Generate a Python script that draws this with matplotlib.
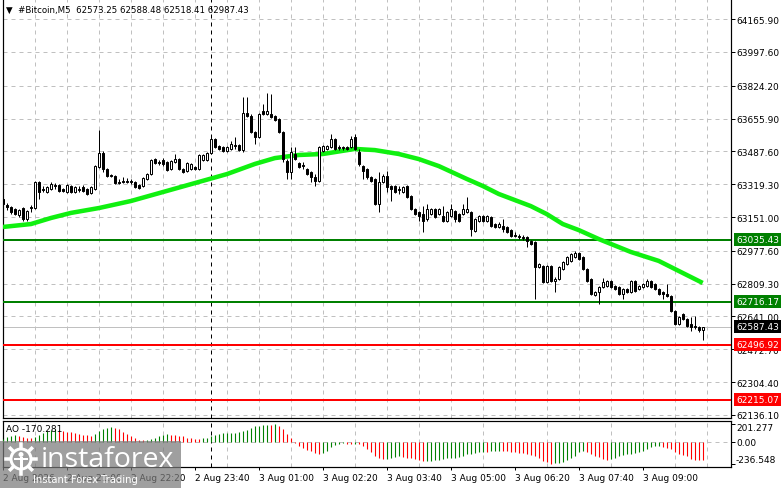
import numpy as np
import matplotlib
matplotlib.use("Agg")
import matplotlib.pyplot as plt
from matplotlib.patches import Rectangle, Circle
from matplotlib.lines import Line2D
from matplotlib.transforms import IdentityTransform

# ---------------- data ----------------
opens = [63243, 63213, 63202, 63192, 63161, 63197, 63141, 63202, 63197, 63330,
         63295, 63279, 63295, 63315, 63315, 63295, 63279, 63310, 63279, 63295,
         63305, 63295, 63274, 63295, 63407, 63479, 63397, 63366, 63361, 63330,
         63336, 63336, 63336, 63330, 63315, 63310, 63346, 63371, 63448, 63433,
         63443, 63433, 63397, 63433, 63448, 63397, 63387, 63397, 63407, 63397,
         63443, 63443, 63479, 63551, 63515, 63510, 63489, 63500, 63520, 63520,
         63494, 63684, 63669, 63587, 63561, 63694, 63679, 63679, 63669, 63653,
         63587, 63438, 63382, 63474, 63428, 63418, 63397, 63382, 63356, 63336,
         63489, 63500, 63510, 63551, 63510, 63510, 63510, 63510, 63561, 63484,
         63412, 63397, 63356, 63346, 63218, 63330, 63361, 63310, 63310, 63295,
         63279, 63310, 63259, 63192, 63177, 63166, 63141, 63166, 63192, 63166,
         63156, 63131, 63156, 63182, 63166, 63166, 63177, 63177, 63079, 63131,
         63156, 63131, 63151, 63115, 63100, 63105, 63100, 63084, 63059, 63054,
         63049, 63049, 63028, 63023, 62895, 62900, 62818, 62900, 62823, 62833,
         62885, 62910, 62926, 62946, 62967, 62946, 62885, 62833, 62751, 62767,
         62792, 62797, 62823, 62797, 62792, 62756, 62782, 62767, 62823, 62782,
         62792, 62797, 62823, 62808, 62782, 62767, 62756, 62746, 62669, 62603,
         62654, 62628, 62603, 62592, 62587, 62573.25]
closes = [63218, 63202, 63177, 63166, 63187, 63141, 63182, 63197, 63330, 63279,
          63289, 63305, 63320, 63310, 63284, 63284, 63315, 63279, 63305, 63289,
          63284, 63269, 63305, 63412, 63479, 63397, 63361, 63361, 63325, 63325,
          63330, 63330, 63330, 63305, 63300, 63351, 63371, 63443, 63428, 63428,
          63423, 63392, 63438, 63448, 63397, 63382, 63428, 63423, 63397, 63469,
          63469, 63479, 63551, 63510, 63500, 63489, 63510, 63525, 63515, 63494,
          63684, 63669, 63587, 63561, 63679, 63679, 63694, 63664, 63648, 63587,
          63448, 63382, 63484, 63448, 63407, 63412, 63371, 63356, 63336, 63510,
          63515, 63515, 63551, 63500, 63505, 63505, 63500, 63551, 63500, 63423,
          63387, 63356, 63336, 63218, 63330, 63361, 63305, 63295, 63279, 63289,
          63305, 63254, 63192, 63166, 63156, 63131, 63192, 63192, 63151, 63192,
          63131, 63177, 63192, 63141, 63131, 63192, 63192, 63090, 63141, 63156,
          63131, 63156, 63105, 63100, 63115, 63090, 63074, 63054, 63054, 63049,
          63043, 63028, 63013, 62895, 62910, 62818, 62900, 62823, 62833, 62895,
          62920, 62946, 62961, 62967, 62936, 62885, 62823, 62756, 62767, 62792,
          62818, 62823, 62792, 62782, 62756, 62782, 62767, 62823, 62772, 62797,
          62808, 62823, 62792, 62782, 62756, 62756, 62746, 62669, 62603, 62638,
          62628, 62592, 62587, 62587, 62572, 62587.43]
highs = [63264, 63223, 63207, 63197, 63192, 63202, 63187, 63213, 63336, 63336,
         63310, 63310, 63330, 63325, 63320, 63300, 63320, 63315, 63310, 63310,
         63315, 63300, 63310, 63418, 63597, 63489, 63402, 63371, 63366, 63346,
         63356, 63351, 63346, 63336, 63320, 63356, 63376, 63448, 63453, 63443,
         63453, 63438, 63443, 63474, 63453, 63402, 63433, 63428, 63412, 63474,
         63474, 63484, 63561, 63556, 63520, 63515, 63515, 63541, 63561, 63525,
         63766, 63766, 63679, 63592, 63684, 63730, 63787, 63782, 63674, 63659,
         63592, 63448, 63510, 63510, 63433, 63433, 63402, 63387, 63371, 63515,
         63520, 63520, 63576, 63556, 63520, 63515, 63515, 63566, 63576, 63500,
         63418, 63402, 63361, 63351, 63382, 63371, 63387, 63315, 63315, 63310,
         63310, 63315, 63264, 63197, 63182, 63207, 63218, 63197, 63197, 63197,
         63207, 63182, 63218, 63187, 63172, 63218, 63254, 63182, 63146, 63161,
         63161, 63161, 63156, 63120, 63125, 63141, 63105, 63090, 63074, 63064,
         63059, 63054, 63033, 63028, 62915, 62905, 62905, 62905, 62843, 62900,
         62926, 62951, 62967, 62977, 62972, 62951, 62890, 62838, 62772, 62797,
         62838, 62828, 62828, 62802, 62797, 62787, 62787, 62828, 62828, 62802,
         62813, 62833, 62828, 62813, 62787, 62772, 62808, 62751, 62674, 62644,
         62659, 62633, 62638, 62644, 62592, 62588.48]
lows = [63187, 63187, 63166, 63161, 63151, 63131, 63131, 63177, 63192, 63243,
        63279, 63274, 63289, 63295, 63279, 63279, 63274, 63274, 63274, 63279,
        63279, 63264, 63269, 63289, 63402, 63382, 63356, 63356, 63320, 63320,
        63325, 63325, 63320, 63300, 63295, 63305, 63341, 63366, 63423, 63418,
        63412, 63387, 63392, 63428, 63392, 63376, 63382, 63392, 63392, 63392,
        63438, 63438, 63474, 63505, 63494, 63484, 63484, 63494, 63500, 63489,
        63484, 63664, 63582, 63525, 63556, 63674, 63674, 63659, 63643, 63582,
        63433, 63346, 63346, 63443, 63402, 63397, 63366, 63330, 63310, 63330,
        63484, 63494, 63505, 63494, 63494, 63494, 63494, 63505, 63494, 63412,
        63346, 63346, 63330, 63213, 63177, 63325, 63279, 63233, 63274, 63269,
        63274, 63248, 63187, 63161, 63131, 63074, 63131, 63161, 63146, 63161,
        63125, 63125, 63151, 63125, 63125, 63161, 63172, 63054, 63074, 63125,
        63125, 63125, 63100, 63095, 63095, 63074, 63069, 63049, 63049, 63038,
        63033, 62997, 63008, 62731, 62890, 62813, 62813, 62818, 62767, 62828,
        62879, 62905, 62920, 62941, 62931, 62879, 62818, 62751, 62746, 62705,
        62787, 62792, 62787, 62777, 62751, 62731, 62761, 62761, 62767, 62777,
        62787, 62792, 62787, 62777, 62751, 62731, 62741, 62664, 62597, 62597,
        62623, 62587, 62567, 62577, 62562, 62518.41]

# moving average (read at selected bars)
ma_bars = [0, 7, 12, 17, 24, 32, 40, 48, 56, 63, 68, 74, 80, 88, 93, 99, 104,
           109, 116, 120, 124, 132, 136, 140, 144, 149, 157, 164, 171, 175]
ma_vals = [63100, 63115, 63146, 63172, 63197, 63233, 63279, 63325, 63371, 63423,
           63453, 63469, 63474, 63500, 63494, 63474, 63448, 63412, 63346, 63310,
           63269, 63207, 63166, 63115, 63084, 63038, 62972, 62926, 62854, 62813]

# Awesome Oscillator
ao = [37, 56, 74, 82, 67, 56, 48, 45, 56, 82, 104, 123, 141, 149,
      141, 130, 119, 112, 104, 93, 86, 78, 74,
      93, 130, 149, 160, 167,
      164, 149, 119, 93, 67, 45, 30, 22,
      26, 37, 48, 67, 82, 89,
      86, 82, 74, 67, 52, 45, 41, 37,
      45, 52, 67, 82, 93, 104, 105, 108, 109, 112, 123, 141, 164, 179, 186, 190, 194,
      192, 201.277, 186,
      149, 93, 45, -7, -37, -67, -82, -97, -119, -134,
      -119, -93, -56, -30, -19, -11,
      -15, -22,
      -15,
      -22, -37, -74, -112, -149, -179, -186,
      -182, -175, -164, -156,
      -164, -171, -179, -190, -201,
      -214,
      -210, -205, -197, -193, -186, -179, -175, -171, -167, -149, -130, -126, -123, -112, -104,
      -112,
      -97, -93, -92,
      -97, -100, -104, -112, -119, -123, -130, -141, -156, -179, -205, -223, -236.548,
      -234, -231, -216, -193, -179, -156, -112, -93,
      -104, -130, -149, -167, -186, -193,
      -186, -179, -156, -141, -130, -126, -119, -112, -93, -74, -56, -45, -37,
      -48, -60, -74, -112, -130, -141, -156, -186, -193, -194, -195]

price_ticks = [64165.90, 63997.60, 63824.20, 63655.90, 63487.60, 63319.30, 63151.00,
               62977.60, 62809.30, 62641.00, 62472.70, 62304.40, 62136.10]
green_levels = [63035.43, 62716.17]
red_levels = [62496.92, 62215.07]
current_price = 62587.43
ao_ticks = [201.277, 0.0, -236.548]
ao_tick_labels = ["201.277", "0.00", "-236.548"]
time_pos = [0, 16, 32, 48, 64, 80, 96, 112, 128, 144, 160]
time_labels = ["2 Aug 2026", "2 Aug 21:00", "2 Aug 22:20", "2 Aug 23:40", "3 Aug 01:00",
               "3 Aug 02:20", "3 Aug 03:40", "3 Aug 05:00", "3 Aug 06:20", "3 Aug 07:40",
               "3 Aug 09:00"]
day_sep_bar = 52
header = "#Bitcoin,M5  62573.25 62588.48 62518.41 62987.43"
ao_title = "AO -170.281"

# ---------------- figure ----------------
W, H = 781, 489
fig = plt.figure(figsize=(W / 100, H / 100), dpi=100)
FS = 6.45
PX = 0.72  # points per pixel
GRID = "#C0C0C0"

def fr(x0, y0, x1, y1):
    return [x0 / W, 1 - y1 / H, (x1 - x0) / W, (y1 - y0) / H]

ax = fig.add_axes(fr(3, 0, 731, 419))
ax2 = fig.add_axes(fr(3, 422, 731, 468))

xlim = (0.075, 182.08)
n = len(opens)
idx = np.arange(n)

# main axes
ax.set_xlim(*xlim)
ax.set_ylim(62120.7, 64268.5)
grid_x = np.arange(0, 177, 8)
ax.set_xticks(grid_x)
ax.tick_params(axis="x", length=0, labelbottom=False)
ax.yaxis.tick_right()
ax.set_yticks(price_ticks)
ax.set_yticklabels([f"{p:.2f}" for p in price_ticks])
ax.tick_params(axis="y", length=3, width=PX, pad=1, labelsize=FS, direction="out")
ax.grid(True, color=GRID, lw=PX, ls=(0, (4, 4)))
ax.set_axisbelow(True)
for s in ["left", "right", "bottom"]:
    ax.spines[s].set_linewidth(PX * 1.2)
ax.spines["top"].set_visible(False)

# levels
for lv in green_levels:
    ax.axhline(lv, color="#008000", lw=2 * PX, zorder=3)
for lv in red_levels:
    ax.axhline(lv, color="#FF0000", lw=2 * PX, zorder=3)
ax.axhline(current_price, color="#C0C0C0", lw=PX, zorder=2)

# day separator
ax.axvline(day_sep_bar, color="black", lw=PX, ls=(0, (4, 4)), zorder=2)

# MA line
ax.plot(ma_bars, ma_vals, color="#10F010", lw=4.5 * PX, solid_capstyle="butt", zorder=4)

# candles
ax.vlines(idx, lows, highs, color="black", lw=PX, zorder=5)
bw = 0.5
for i in range(n):
    o, c = opens[i], closes[i]
    lo, hi = min(o, c), max(o, c)
    bull = c >= o
    if hi - lo < 3:
        ax.hlines((o + c) / 2, i - bw / 2 - 0.12, i + bw / 2 + 0.12, color="black", lw=PX, zorder=6)
    else:
        ax.add_patch(Rectangle((i - bw / 2, lo), bw, hi - lo,
                               facecolor="white" if bull else "black",
                               edgecolor="black", lw=PX, zorder=6))

# right-side price boxes
def price_box(a, val, fc):
    a.annotate(f"{val:.2f}", xy=(1, val), xycoords=("axes fraction", "data"),
               xytext=(5, 0), textcoords="offset pixels", ha="left", va="center",
               fontsize=FS, color="white", annotation_clip=False, zorder=10,
               bbox=dict(boxstyle="square,pad=0.22", fc=fc, ec="none"))

for lv in green_levels:
    price_box(ax, lv, "#008000")
price_box(ax, current_price, "black")
for lv in red_levels:
    price_box(ax, lv, "#FF0000")

ax.annotate("\u25BC  " + header, xy=(0, 1), xycoords="axes fraction", xytext=(3, -10),
            textcoords="offset pixels", ha="left", va="center", fontsize=6.2, color="black")

# AO axes
ax2.set_xlim(*xlim)
ax2.set_ylim(-275.4, 237.5)
ao_colors = ["#008000" if (i == 0 or ao[i] > ao[i - 1]) else "#FF0000" for i in range(n)]
ax2.vlines(idx, 0, ao, colors=ao_colors, lw=PX * 1.1, zorder=3)
ax2.axhline(0, color=GRID, lw=PX, ls=(0, (4, 4)), zorder=1)
ax2.set_xticks(grid_x, minor=True)
ax2.set_xticks(time_pos)
ax2.set_xticklabels(time_labels, fontsize=FS, ha="left")
ax2.tick_params(axis="x", which="major", length=2, width=PX, pad=2)
ax2.tick_params(axis="x", which="minor", length=0)
ax2.grid(True, which="minor", axis="x", color=GRID, lw=PX, ls=(0, (4, 4)))
ax2.grid(False, which="major")
ax2.axvline(day_sep_bar, color="black", lw=PX, ls=(0, (4, 4)), zorder=2)
ax2.yaxis.tick_right()
ax2.set_yticks(ao_ticks)
ax2.tick_params(axis="y", length=3, width=PX, labelright=False)
offs = [-3, 0, 4]
for v, lab, off in zip(ao_ticks, ao_tick_labels, offs):
    ax2.annotate(lab, xy=(1, v), xycoords=("axes fraction", "data"), xytext=(5, off),
                 textcoords="offset pixels", ha="left", va="center", fontsize=FS,
                 annotation_clip=False)
for s in ax2.spines.values():
    s.set_linewidth(PX * 1.2)
ax2.annotate(ao_title, xy=(0, 1), xycoords="axes fraction", xytext=(3, -8),
             textcoords="offset pixels", ha="left", va="center", fontsize=FS)

# watermark (pixel coordinates, origin bottom-left)
T = IdentityTransform()
fig.add_artist(Rectangle((0, 0), 181, 47, transform=T, fc="#7a7a7a", ec="none",
                         alpha=0.72, zorder=20))
cx, cy = 21, 29
fig.add_artist(Circle((cx, cy), 10, transform=T, fill=False, ec="white", lw=3 * PX, zorder=21))
for a in np.linspace(0, 2 * np.pi, 8, endpoint=False):
    fig.add_artist(Line2D([cx + 11 * np.cos(a), cx + 15 * np.cos(a)],
                          [cy + 11 * np.sin(a), cy + 15 * np.sin(a)],
                          transform=T, color="white", lw=3.5 * PX, zorder=21))
fig.add_artist(Circle((cx, cy + 4.5), 2.5, transform=T, fc="white", ec="none", zorder=21))
fig.add_artist(Line2D([cx, cx], [cy + 1.5, cy - 8], transform=T, color="white", lw=3 * PX, zorder=21))
fig.add_artist(Line2D([cx - 6, cx + 6], [cy + 0.5, cy + 0.5], transform=T, color="white", lw=2 * PX, zorder=21))
fig.text(41, 29, "instaforex", transform=T, color="white", fontsize=20.5,
         family="Open Sans", va="center", ha="left", zorder=22)
fig.text(33, 9, "Instant Forex Trading", transform=T, color="white", fontsize=7.2,
         family="DejaVu Sans", va="center", ha="left", zorder=22)

fig.savefig("out.png", dpi=100)
